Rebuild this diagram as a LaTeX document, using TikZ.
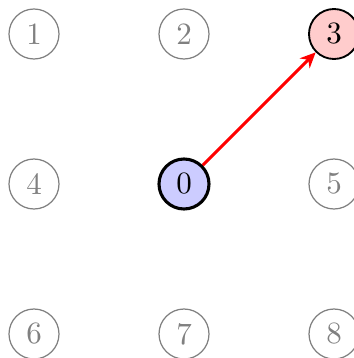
\documentclass[tikz,border=0pt]{standalone}
\usetikzlibrary{arrows.meta}
\begin{document}
\begin{tikzpicture}[x=0.3226pt,y=-0.3226pt,
  base/.style={circle,minimum size=50*0.3226pt,inner sep=0pt,font=\normalsize},
  idle/.style={base,draw=gray,text=gray,line width=0.4pt},
  src/.style={base,draw=black,fill=blue!20,line width=1.0pt},
  dst/.style={base,draw=black,fill=red!20,line width=0.6pt},
  move/.style={red,line width=1pt,-{Stealth[length=5pt,width=4.5pt]}}]
\path[use as bounding box] (0,0) rectangle (354,358);
\clip (0,0) rectangle (354,358);
\node[idle] (n1) at (34,34) {1};
\node[idle] (n2) at (184,34) {2};
\node[dst]  (n3) at (334,34) {3};
\node[idle] (n4) at (34,184) {4};
\node[src]  (n0) at (184,184) {0};
\node[idle] (n5) at (334,184) {5};
\node[idle] (n6) at (34,334) {6};
\node[idle] (n7) at (184,334) {7};
\node[idle] (n8) at (334,334) {8};
\draw[move] (n0) -- (n3);
\end{tikzpicture}
\end{document}
